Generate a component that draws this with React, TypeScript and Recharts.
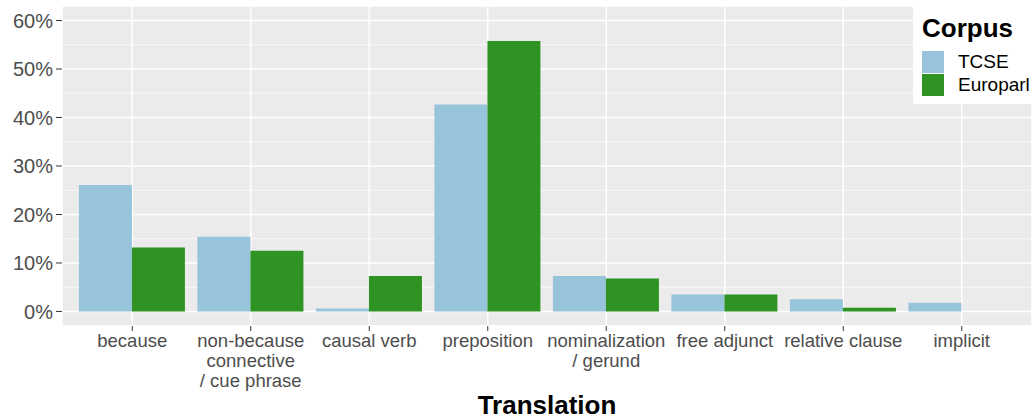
import React from 'react';
import {
  BarChart,
  Bar,
  XAxis,
  YAxis,
  CartesianGrid,
} from 'recharts';

// values (percent)
const categories = [
  'because',
  'non-because\nconnective\n/ cue phrase',
  'causal verb',
  'preposition',
  'nominalization\n/ gerund',
  'free adjunct',
  'relative clause',
  'implicit',
];
const tcse = [26.1, 15.4, 0.6, 42.7, 7.3, 3.5, 2.5, 1.8];
const europarl = [13.2, 12.5, 7.3, 55.8, 6.8, 3.5, 0.75, 0];
const majorTicks = [0, 10, 20, 30, 40, 50, 60];
const minorTicks = [5, 15, 25, 35, 45, 55];

const series = [
  { key: 'tcse', name: 'TCSE', color: '#97C3DB' },
  { key: 'europarl', name: 'Europarl', color: '#2E9322' },
];

const data = categories.map((c, i) => ({
  category: c,
  tcse: tcse[i],
  europarl: europarl[i],
}));

const FONT = '"Liberation Sans", Arial, Helvetica, sans-serif';

function XTick(props: any) {
  const { x, y, payload } = props;
  const lines = String(payload.value).split('\n');
  return (
    <g transform={`translate(${x},${y})`}>
      <text textAnchor="middle" fill="#4D4D4D" fontSize={18.5} fontFamily={FONT}>
        {lines.map((l, i) => (
          <tspan key={i} x={0} dy={i === 0 ? 14 : 20}>
            {l}
          </tspan>
        ))}
      </text>
    </g>
  );
}

export default function App() {
  return (
    <div style={{ position: 'absolute', left: 0, top: 0, width: 1032, height: 420, fontFamily: FONT }}>
      <BarChart
        width={1032}
        height={420}
        data={data}
        margin={{ top: 6, right: 0, left: 0, bottom: 0 }}
        barCategoryGap="5%"
        barGap={0}
      >
        <CartesianGrid fill="#EBEBEB" stroke="#FFFFFF" strokeWidth={1.5} />
        <CartesianGrid yAxisId="minor" vertical={false} stroke="#FFFFFF" strokeWidth={0.7} />
        <XAxis
          dataKey="category"
          interval={0}
          height={94}
          padding={{ left: 11, right: 11 }}
          axisLine={false}
          tickSize={5}
          tickMargin={2}
          tickLine={{ stroke: '#333333' }}
          tick={<XTick />}
          label={{
            value: 'Translation',
            position: 'insideBottom',
            offset: 6,
            fill: '#000000',
            fontSize: 26,
            fontWeight: 'bold',
            fontFamily: FONT,
          }}
        />
        <YAxis
          width={62}
          domain={[-3, 63]}
          allowDataOverflow
          ticks={majorTicks}
          tickFormatter={(v: number) => `${v}%`}
          axisLine={false}
          tickSize={6}
          tickMargin={3}
          tickLine={{ stroke: '#333333' }}
          tick={{ fill: '#4D4D4D', fontSize: 20, fontFamily: FONT }}
        />
        <YAxis yAxisId="minor" hide domain={[-3, 63]} allowDataOverflow ticks={minorTicks} />
        {series.map((s) => (
          <Bar key={s.key} dataKey={s.key} name={s.name} fill={s.color} isAnimationActive={false} />
        ))}
      </BarChart>
      <div
        style={{
          position: 'absolute',
          left: 913,
          top: 5,
          width: 119,
          height: 99,
          background: '#FFFFFF',
        }}
      >
        <div style={{ position: 'absolute', left: 9, top: 9, fontSize: 26, fontWeight: 'bold', color: '#000', lineHeight: '28px' }}>
          Corpus
        </div>
        {series.map((s, i) => (
          <div key={s.key} style={{ position: 'absolute', left: 9, top: 45 + i * 23.5, height: 23, display: 'flex', alignItems: 'center' }}>
            <div style={{ width: 22, height: 22, background: s.color }} />
            <span style={{ marginLeft: 14, fontSize: 19, color: '#000' }}>{s.name}</span>
          </div>
        ))}
      </div>
    </div>
  );
}
